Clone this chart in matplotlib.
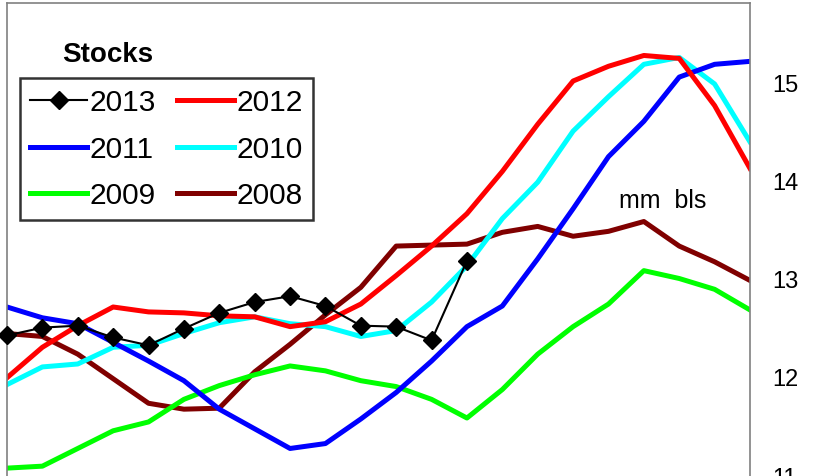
import matplotlib
matplotlib.use("Agg")
import matplotlib.pyplot as plt

plt.rcParams['font.family'] = ['Liberation Sans', 'DejaVu Sans']

weeks = list(range(22))
y2013 = [12.42, 12.50, 12.52, 12.40, 12.32, 12.49, 12.65, 12.76, 12.82, 12.72, 12.52, 12.51, 12.37, 13.18]
y2012 = [11.99, 12.30, 12.52, 12.71, 12.66, 12.65, 12.62, 12.61, 12.51, 12.56, 12.74, 13.03, 13.33, 13.66,
         14.09, 14.57, 15.01, 15.16, 15.27, 15.24, 14.76, 14.12]
y2011 = [12.71, 12.60, 12.54, 12.35, 12.16, 11.96, 11.67, 11.47, 11.27, 11.32, 11.57, 11.84, 12.16, 12.51,
         12.72, 13.20, 13.71, 14.24, 14.60, 15.05, 15.18, 15.21]
y2010 = [11.92, 12.10, 12.13, 12.30, 12.32, 12.44, 12.55, 12.61, 12.54, 12.51, 12.41, 12.47, 12.76, 13.13,
         13.61, 13.98, 14.50, 14.85, 15.18, 15.25, 14.98, 14.39]
y2009 = [11.07, 11.09, 11.27, 11.45, 11.54, 11.77, 11.91, 12.02, 12.11, 12.06, 11.96, 11.90, 11.77, 11.58,
         11.87, 12.23, 12.51, 12.74, 13.08, 13.00, 12.89, 12.68]
y2008 = [12.44, 12.41, 12.23, 11.98, 11.73, 11.67, 11.68, 12.05, 12.33, 12.63, 12.91, 13.33, 13.34, 13.35,
         13.47, 13.53, 13.43, 13.48, 13.58, 13.33, 13.17, 12.98]
yticks = [11, 12, 13, 14, 15]

W, H = 813, 477
fig = plt.figure(figsize=(W / 100, H / 100), dpi=100)
left_px, right_px = 7, 750
ymin, ymax = 10.9, 15.8
px_per_unit = (476 - 83) / 4.0
bottom_px = 476 + (11 - ymin) * px_per_unit
top_val_px = 83 - (ymax - 15) * px_per_unit
ax = fig.add_axes([left_px / W, 1 - bottom_px / H, (right_px - left_px) / W, (bottom_px - top_val_px) / H])

lw = 3.6
l08, = ax.plot(weeks[:len(y2008)], y2008, color='#800000', lw=lw, zorder=2)
l09, = ax.plot(weeks[:len(y2009)], y2009, color='#00ff00', lw=lw, zorder=2)
l10, = ax.plot(weeks[:len(y2010)], y2010, color='#00ffff', lw=lw, zorder=2)
l11, = ax.plot(weeks[:len(y2011)], y2011, color='#0000ff', lw=lw, zorder=2)
l12, = ax.plot(weeks[:len(y2012)], y2012, color='#ff0000', lw=lw, zorder=2)
l13, = ax.plot(weeks[:len(y2013)], y2013, color='black', lw=1.5, marker='D', markersize=9,
               markerfacecolor='black', markeredgecolor='black', zorder=5, clip_on=False)

ax.set_xlim(0, 21)
ax.set_ylim(ymin, ymax)
ax.yaxis.tick_right()
ax.set_yticks(yticks)
ax.set_yticklabels([str(t) for t in yticks])
ax.tick_params(axis='y', length=0, pad=16, labelsize=17)
ax.set_xticks([])
for s in ['left', 'top', 'right']:
    ax.spines[s].set_color('#808080')
    ax.spines[s].set_linewidth(1.2)
ax.spines['bottom'].set_visible(False)

ax.text(17.3, 13.80, 'mm  bls', fontsize=18, ha='left', va='center')

fig.text(62 / W, 1 - 55 / H, 'Stocks', fontsize=20, fontweight='bold', ha='left', va='center')

handles = [l13, l11, l09, l12, l10, l08]
labels = ['2013', '2011', '2009', '2012', '2010', '2008']
leg = fig.legend(handles, labels, ncol=2, loc='upper left', bbox_to_anchor=(20 / W, 1 - 79 / H),
                 fontsize=21.5, frameon=True, fancybox=False, handlelength=1.9, handletextpad=0.08,
                 columnspacing=0.72, labelspacing=0.62, borderpad=0.35, borderaxespad=0)
leg.get_frame().set_edgecolor('black')
leg.get_frame().set_linewidth(1.8)

fig.savefig('out.png', dpi=100)
